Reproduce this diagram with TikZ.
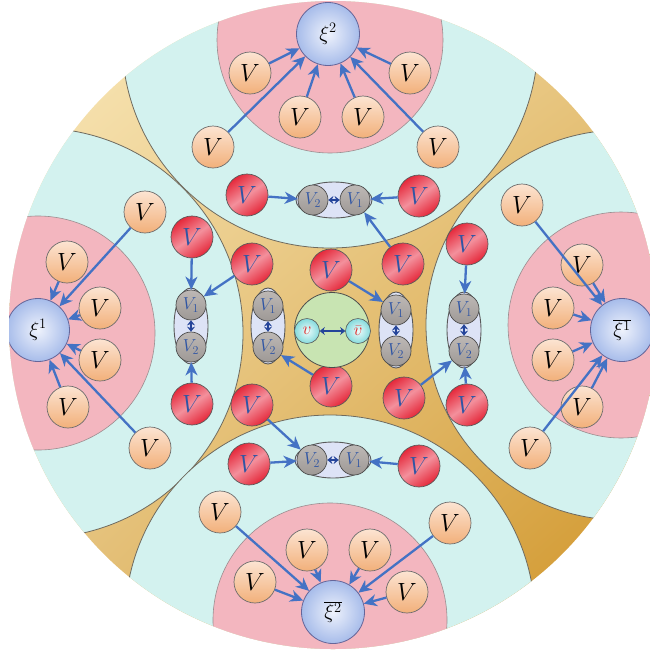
\documentclass[tikz,border=0pt]{standalone}
\usetikzlibrary{arrows.meta,shapes.geometric,shadings}
\definecolor{cyanbg}{HTML}{D3F2EF}
\definecolor{pinkbg}{HTML}{F3B6BF}
\definecolor{goldA}{HTML}{FBEBBE}
\definecolor{goldB}{HTML}{E8C783}
\definecolor{goldD}{HTML}{E4C17C}
\definecolor{goldC}{HTML}{CF9223}
\definecolor{edgegold}{HTML}{6F6A5E}
\definecolor{pinkedge}{HTML}{9A8E90}
\definecolor{arrowblue}{HTML}{4472C4}
\definecolor{vblue}{HTML}{2F55A4}
\definecolor{dblue}{HTML}{24449A}
\definecolor{orTop}{HTML}{FCE4D2}
\definecolor{orBot}{HTML}{F2B07A}
\definecolor{redA}{HTML}{E5283A}
\definecolor{redB}{HTML}{F3909C}
\definecolor{xiIn}{HTML}{EEF2FC}
\definecolor{xiOut}{HTML}{A7BCEA}
\definecolor{grayA}{HTML}{BDB8B5}
\definecolor{grayB}{HTML}{9E9996}
\definecolor{lav}{HTML}{DDE3F6}
\definecolor{greenbg}{HTML}{C8E4B2}
\definecolor{cyA}{HTML}{EEFCFC}
\definecolor{cyB}{HTML}{84DADC}
\definecolor{vred}{HTML}{E32626}
\begin{document}
\begin{tikzpicture}[x=1pt,y=-1pt,
  orangeV/.style={circle,minimum size=42pt,inner sep=0pt,draw=gray!85!black,line width=0.7pt,
    top color=orTop,bottom color=orBot,font=\fontsize{23}{23}\selectfont},
  redV/.style={circle,minimum size=42pt,inner sep=0pt,draw=gray!70!black,line width=0.7pt,
    shading=axis,top color=redA,bottom color=redA,middle color=redB,shading angle=35,
    text=vblue,font=\fontsize{23}{23}\selectfont},
  xinode/.style={circle,minimum size=63pt,inner sep=0pt,draw=gray!80!blue,line width=0.8pt,
    inner color=xiIn,outer color=xiOut,font=\fontsize{22}{22}\selectfont},
  smallV/.style={circle,minimum size=30pt,inner sep=0pt,draw=gray!60!black,line width=0.7pt,
    top color=grayA,bottom color=grayB,text=vblue,font=\fontsize{18}{18}\selectfont},
  hpair/.style={ellipse,minimum width=76pt,minimum height=36pt,inner sep=0pt,draw=gray!70!black,line width=0.9pt,fill=lav},
  vpair/.style={ellipse,minimum width=34pt,minimum height=76pt,inner sep=0pt,draw=gray!70!black,line width=0.9pt,fill=lav},
  cyanball/.style={circle,minimum size=25pt,inner sep=0pt,draw=gray!70!black,line width=0.6pt,
    inner color=cyA,outer color=cyB,text=vred,font=\fontsize{18}{18}\selectfont},
  arr/.style={arrowblue,line width=2.3pt,-{Stealth[length=13pt,width=12pt,inset=4pt]}},
  darr/.style={dblue,line width=1.6pt,{Stealth[length=5pt,width=8pt]}-{Stealth[length=5pt,width=8pt]}},
  cyanregion/.style={fill=cyanbg,draw=edgegold,line width=0.8pt},
  pinkregion/.style={fill=pinkbg,draw=pinkedge,line width=0.6pt}
]
\useasboundingbox (0,0) rectangle (650,649);
\begin{scope}
\clip (333,325) circle (324pt);
\shade[upper left=goldA,upper right=goldB,lower left=goldD,lower right=goldC] (0,0) rectangle (650,649);
% cyan circles
\path[cyanregion] (330,40) circle (208pt);
\path[cyanregion] (38,333) circle (205pt);
\path[cyanregion] (621,325) circle (195pt);
\path[cyanregion] (330,620) circle (205pt);
% pink circles
\path[pinkregion] (330,40) circle (113pt);
\path[pinkregion] (38,333) circle (117pt);
\path[pinkregion] (621,325) circle (113pt);
\path[pinkregion] (330,620) circle (117pt);
% xi nodes
\node[xinode] (X2) at (328,34) {$\xi^2$};
\node[xinode] (X1) at (38,330) {$\xi^1$};
\node[xinode] (X1b) at (622,330) {$\overline{\xi^1}$};
\node[xinode] (X2b) at (333,612) {$\overline{\xi^2}$};
% orange V nodes
\node[orangeV] (t1) at (250,73) {$V$};
\node[orangeV] (t2) at (300,117) {$V$};
\node[orangeV] (t3) at (363,117) {$V$};
\node[orangeV] (t4) at (410,73) {$V$};
\node[orangeV] (t5) at (213,147) {$V$};
\node[orangeV] (t6) at (438,147) {$V$};
\node[orangeV] (l1) at (145,212) {$V$};
\node[orangeV] (l2) at (67,262) {$V$};
\node[orangeV] (l3) at (100,308) {$V$};
\node[orangeV] (l4) at (100,360) {$V$};
\node[orangeV] (l5) at (68,407) {$V$};
\node[orangeV] (l6) at (150,448) {$V$};
\node[orangeV] (r1) at (522,205) {$V$};
\node[orangeV] (r2) at (582,265) {$V$};
\node[orangeV] (r3) at (553,308) {$V$};
\node[orangeV] (r4) at (553,360) {$V$};
\node[orangeV] (r5) at (582,407) {$V$};
\node[orangeV] (r6) at (530,448) {$V$};
\node[orangeV] (b1) at (220,512) {$V$};
\node[orangeV] (b2) at (307,550) {$V$};
\node[orangeV] (b3) at (370,550) {$V$};
\node[orangeV] (b4) at (450,523) {$V$};
\node[orangeV] (b5) at (255,582) {$V$};
\node[orangeV] (b6) at (407,592) {$V$};
\foreach \a in {t1,t2,t3,t4,t5,t6} \draw[arr] (\a) -- (X2);
\foreach \a in {l1,l2,l3,l4,l5,l6} \draw[arr] (\a) -- (X1);
\foreach \a in {r1,r2,r3,r4,r5,r6} \draw[arr] (\a) -- (X1b);
\foreach \a in {b1,b2,b3,b4,b5,b6} \draw[arr] (\a) -- (X2b);
% red V nodes
\node[redV] (R1) at (247,195) {$V$};
\node[redV] (R2) at (419,196) {$V$};
\node[redV] (R3) at (192,237) {$V$};
\node[redV] (R4) at (192,404) {$V$};
\node[redV] (R5) at (252,264) {$V$};
\node[redV] (R6) at (331,270) {$V$};
\node[redV] (R7) at (403,264) {$V$};
\node[redV] (R8) at (467,244) {$V$};
\node[redV] (R9) at (467,405) {$V$};
\node[redV] (R10) at (252,405) {$V$};
\node[redV] (R11) at (331,386) {$V$};
\node[redV] (R12) at (404,398) {$V$};
\node[redV] (R13) at (249,464) {$V$};
\node[redV] (R14) at (419,466) {$V$};
% pair ellipses
\node[hpair] (ET) at (334,200) {};
\node[hpair] (EB) at (333,460) {};
\node[vpair] (EL) at (191,326) {};
\node[vpair] (ER) at (464,330) {};
\node[vpair] (ECL) at (268,326) {};
\node[vpair] (ECR) at (396,330) {};
\node[smallV] (tV2) at (313,200) {$V_2$};
\node[smallV] (tV1) at (355,200) {$V_1$};
\node[smallV] (bV2) at (312,460) {$V_2$};
\node[smallV] (bV1) at (354,460) {$V_1$};
\node[smallV] (lV1) at (191,305) {$V_1$};
\node[smallV] (lV2) at (191,347) {$V_2$};
\node[smallV] (rV1) at (464,309) {$V_1$};
\node[smallV] (rV2) at (464,351) {$V_2$};
\node[smallV] (clV1) at (268,306) {$V_1$};
\node[smallV] (clV2) at (268,347) {$V_2$};
\node[smallV] (crV1) at (396,310) {$V_1$};
\node[smallV] (crV2) at (396,351) {$V_2$};
\foreach \a/\b in {tV1/tV2,bV1/bV2,lV1/lV2,rV1/rV2,clV1/clV2,crV1/crV2} \draw[darr] (\a) -- (\b);
% green centre
\node[circle,minimum size=75pt,inner sep=0pt,fill=greenbg,draw=gray!60!black,line width=0.8pt] (G) at (332,330) {};
\node[cyanball] (v) at (307,331) {$v$};
\node[cyanball] (vb) at (358,331) {$\bar{v}$};
\draw[darr,line width=2pt] (v) -- (vb);
% red arrows
\draw[arr] (R1) -- (tV2);
\draw[arr] (R2) -- (tV1);
\draw[arr] (R7) -- (tV1);
\draw[arr] (R13) -- (bV2);
\draw[arr] (R14) -- (bV1);
\draw[arr] (R10) -- (bV2);
\draw[arr] (R3) -- (lV1);
\draw[arr] (R4) -- (lV2);
\draw[arr] (R5) -- (lV1);
\draw[arr] (R8) -- (rV1);
\draw[arr] (R9) -- (rV2);
\draw[arr] (R12) -- (rV2);
\draw[arr] (R11) -- (clV2);
\draw[arr] (R6) -- (crV1);
\end{scope}
\end{tikzpicture}
\end{document}
